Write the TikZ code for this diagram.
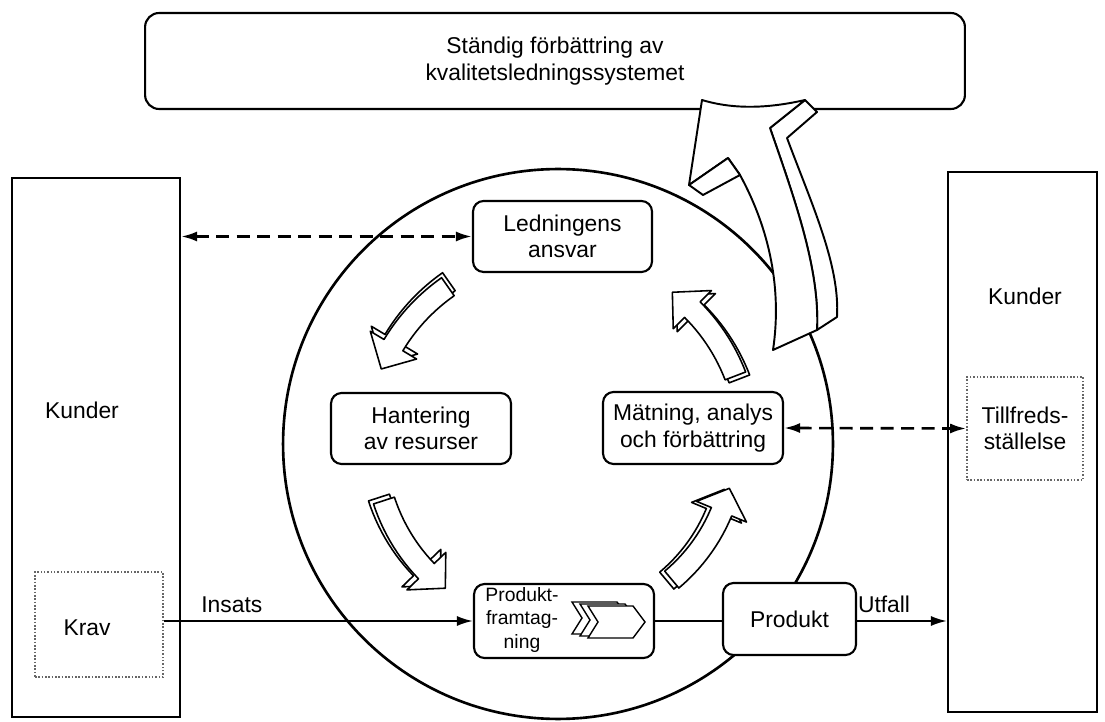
\documentclass[tikz,border=0pt]{standalone}
\usepackage{fontspec}
\setmainfont{Liberation Sans}
\usetikzlibrary{arrows.meta}

% outline of a curved block arrow on a ring round the origin:
% #1 tail angle, #2 angle of the head's base, #3 tip angle, #4 ring radius
\newcommand\cyclearrowpath[4]{%
  plot[domain=#1:#2, samples=14] (\x:{#4+11}) -- (#2:{#4+27}) -- (#3:#4)
  -- (#2:{#4-27}) -- (#2:{#4-11}) -- plot[domain=#2:#1, samples=14] (\x:{#4-11}) -- cycle}

\begin{document}
\begin{tikzpicture}[x=0.02cm, y=-0.02cm,
  lbl/.style={font=\fontsize{13}{15}\selectfont, inner sep=0pt, align=center},
  rbox/.style={draw, line width=1.2pt, rounded corners=6pt, fill=white, lbl},
  sqbox/.style={draw, line width=1.2pt, fill=white},
  dotbox/.style={draw=black!60, densely dotted, line width=0.9pt},
  conn/.style={line width=1.2pt},
  tipped/.style={conn, -{Latex[length=0.32cm,width=0.2cm]}},
  dashconn/.style={line width=1.5pt, dash pattern=on 0.26cm off 0.15cm,
    {Latex[length=0.32cm,width=0.2cm]}-{Latex[length=0.32cm,width=0.2cm]}},
  cyclearrow/.style={draw, line width=0.9pt, fill=white, line join=round},
  bigarrow/.style={draw, line width=1.1pt, fill=white, line join=round},
  ringline/.style={line width=1.5pt},
]
\useasboundingbox (0,0) rectangle (1105,722);

% customers on both sides
\node[sqbox, minimum width=3.36cm, minimum height=10.78cm] (lk) at (96,447.5) {};
\node[lbl] (lktext) at (82,410) {Kunder};
\node[dotbox, minimum width=2.56cm, minimum height=2.1cm] (krav) at (99,624.5) {};
\node[lbl] (kravtext) at (87,628) {Krav};

\node[sqbox, minimum width=2.98cm, minimum height=10.8cm] (rk) at (1022.5,442) {};
\node[lbl] (rktext) at (1025,296) {Kunder};
\node[dotbox, lbl, minimum width=2.32cm, minimum height=2.06cm] (tf) at (1025,428.5) {Tillfreds-\\ställelse};

% continual improvement
\node[rbox, rounded corners=8pt, minimum width=16.4cm, minimum height=1.92cm] (top) at (555,61)
  {Ständig förbättring av\\kvalitetsledningssystemet};

% process ring
\draw[ringline] (558,444) circle[radius=5.5cm];

% big arrow rising out of the ring into the improvement box
\draw[bigarrow] (805,100) -- (817,112) -- (787,138)
  .. controls (812,205) and (840,265) .. (837,317) -- (817,330)
  .. controls (820,270) and (795,200) .. (770,128) -- cycle;
\draw[bigarrow] (702,100) .. controls (735,110) and (770,108) .. (805,100) -- (770,128)
  .. controls (795,200) and (820,270) .. (817,330) -- (773,350)
  .. controls (782,290) and (770,230) .. (740,175) -- (728,158) -- (689,185) -- cycle;
\draw[bigarrow] (728,158) -- (689,185) -- (703,195) -- (740,175) -- cycle;

% process boxes
\node[rbox, minimum width=3.58cm, minimum height=1.42cm] (led) at (562.5,236.5) {Ledningens\\ansvar};
\node[rbox, minimum width=3.6cm, minimum height=1.42cm] (res) at (421,428.5) {Hantering\\av resurser};
\node[rbox, minimum width=3.6cm, minimum height=1.44cm] (mat) at (693,428) {Mätning, analys\\och förbättring};
\node[rbox, minimum width=3.6cm, minimum height=1.48cm] (pf) at (564,621) {};
\node[lbl, font=\fontsize{11}{13.6}\selectfont] (pftext) at (522,620) {Produkt-\\framtag-\\ning};
\node[rbox, minimum width=2.66cm, minimum height=1.44cm] (prod) at (789.5,619) {Produkt};

% stacked process chevrons
\foreach \dx/\dy in {-16/-4, -8/-2, 0/0}
  \draw[line width=0.8pt, fill=white, line join=miter]
    ([shift={(\dx,\dy)}]588,606) -- ++(45,0) -- ++(12,16) -- ++(-12,16) -- ++(-45,0) -- ++(10,-16) -- cycle;

% the cycle of curved arrows
\begin{scope}[shift={(558,444)}]
  \draw[cyclearrow, shift={(1,-5)}] \cyclearrowpath{235}{211}{203}{192};
  \draw[cyclearrow] \cyclearrowpath{235}{211}{203}{192};
  \draw[cyclearrow, shift={(-5,-3)}] \cyclearrowpath{162}{136}{128}{183};
  \draw[cyclearrow] \cyclearrowpath{162}{136}{128}{183};
  \draw[cyclearrow, shift={(-5,1)}] \cyclearrowpath{50}{22.5}{14.5}{177};
  \draw[cyclearrow] \cyclearrowpath{50}{22.5}{14.5}{177};
  \draw[cyclearrow, shift={(4,3)}] \cyclearrowpath{-21}{-45}{-53}{190};
  \draw[cyclearrow] \cyclearrowpath{-21}{-45}{-53}{190};
\end{scope}

% connectors
\draw[dashconn] (lk.east |- led.west) -- (led.west);
\draw[dashconn] (mat.east) -- (tf.west);
\draw[tipped] (krav.east |- pf.west) -- node[lbl, above=4pt, pos=0.22] (insats) {Insats} (pf.west);
\draw[conn] (pf.east) -- (pf.east -| prod.west);
\draw[tipped] (prod.east |- pf.east) -- node[lbl, above=4pt, pos=0.3] (utfall) {Utfall} (rk.west |- pf.east);
\end{tikzpicture}
\end{document}
